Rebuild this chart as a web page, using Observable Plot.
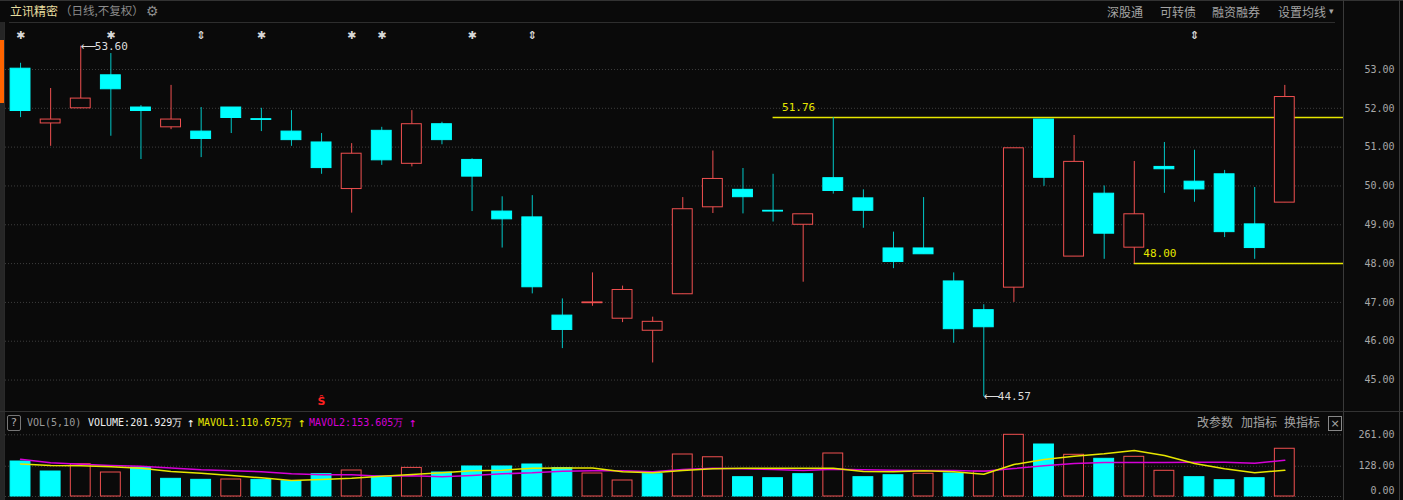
<!DOCTYPE html>
<html><head><meta charset="utf-8">
<script src="https://cdn.jsdelivr.net/npm/d3@7"></script>
<script src="https://cdn.jsdelivr.net/npm/@observablehq/plot@0.6"></script>
<style>
html,body{margin:0;padding:0;background:#0a0a0a;}
#wrap{position:relative;width:1403px;height:500px;background:#0a0a0a;overflow:hidden;font-family:"Noto Sans CJK SC",sans-serif;}
.t{position:absolute;white-space:nowrap;line-height:1;}
.m{font-family:"DejaVu Sans Mono",monospace;font-size:10px;}
.cn{font-family:"Noto Sans CJK SC",sans-serif;font-size:12px;color:#a4a4a4;}
.ln{position:absolute;background:#333;}
.svgbox{position:absolute;left:0;}
</style></head><body><div id="wrap"></div>
<script>
// ---------- data ----------
const stockName = "立讯精密";
const periodLabel = "（日线,不复权）";
const topMenu = ["深股通", "可转债", "融资融券", "设置均线"];
const volMenu = ["改参数", "加指标", "换指标"];
const dayIdx = d3.range(1, 44);
const open  = [53.02,51.61,52.00,52.85,52.02,51.51,51.40,52.02,51.72,51.40,51.12,49.92,51.42,50.57,51.59,50.67,49.34,49.19,46.66,46.98,46.58,46.27,47.21,49.45,49.90,49.36,49.00,50.20,49.68,48.39,48.39,47.54,46.80,47.38,51.71,48.18,49.80,48.41,50.49,50.11,50.30,49.01,49.57];
const high  = [53.16,52.51,53.60,53.41,52.07,52.59,52.02,52.02,52.00,51.94,51.35,51.09,51.51,51.94,51.64,50.70,49.72,49.75,47.09,47.76,47.42,46.62,49.70,50.90,50.45,50.30,49.27,51.76,49.90,48.81,49.70,47.76,46.94,50.97,51.71,51.30,50.00,50.63,51.12,50.92,50.40,49.96,52.59];
const low   = [51.76,51.02,51.99,51.28,50.68,51.45,50.73,51.35,51.40,51.02,50.30,49.30,50.53,50.49,51.06,49.34,48.40,47.22,45.81,46.90,46.48,45.44,47.21,49.29,49.28,49.07,47.52,49.79,48.91,47.87,48.24,45.95,44.57,47.00,49.99,48.18,48.11,48.00,49.81,49.58,48.67,48.11,49.57];
const close = [51.93,51.71,52.25,52.49,51.93,51.71,51.21,51.75,51.70,51.18,50.46,50.83,50.66,51.59,51.18,50.24,49.14,47.39,46.29,47.00,47.32,46.50,49.40,50.18,49.71,49.34,49.27,49.87,49.36,48.04,48.24,46.31,46.36,50.97,50.21,50.62,48.77,49.27,50.43,49.91,48.81,48.40,52.29];
const volume = [148,105.7,136.7,101.5,122.7,74.8,70.5,71.9,70.5,64.8,94.4,110,84.6,121,101.5,127,127,135.4,119.9,97.3,67.7,94.4,177.7,166,81.7,77.4,94.4,181.9,81.7,90,96,97.3,105.8,261,220,176.4,159.5,167.9,108.7,81.7,69,77.4,201.929];
const mavol1 = [138,131,129.7,125.6,119.9,105.8,98.7,88.8,79,67.7,71.9,77.4,86,93,100,108.7,111,119.9,121,121,104.5,100,110,117,119.9,119.9,119.9,119.9,105.8,104.5,108.7,104.5,94.4,135.4,156.5,170.5,180.6,194.6,173.4,139.6,117,100.4,110.675];
const mavol2 = [158,142.5,136.7,131,128,121,113,108.7,104.5,96,91.8,91.8,86,87.6,83.3,88.8,96,100,107,108.7,108.7,104.5,114,119.9,117,114,110,115.6,113,111,110,110,107,118.4,129.7,139.6,143.8,143.8,143.8,145,145,141,153.605];
const priceTicks = [45,46,47,48,49,50,51,52,53];
const volTicks = [128, 261];
const starDays = [1,4,9,12,13,16];
const arrowDays = [7,18,40];
const signalDays = [11];
const levelDays = [26, 38];
const levelValues = [51.76, 48.00];
const xDomain = [0.5, 44.95];
const priceDomain = [44.19, 54.21];
const volDomain = [0, 359.6];

// ---------- styles ----------
const BG = "#0a0a0a", RED = "#f05050", CYAN = "#00ffff", CYANW = "#00c8c8", YEL = "#e6e600", MAG = "#d600d6", GRID = "#3e3e3e";
const MONO = "DejaVu Sans Mono, monospace";

const candles = dayIdx.map((d, k) => ({i: d, o: open[k], h: high[k], l: low[k], c: close[k], up: close[k] >= open[k]}));
const vols = dayIdx.map((d, k) => ({i: d, v: volume[k], m5: mavol1[k], m10: mavol2[k],
  up: close[k] >= (k === 0 ? open[k] : close[k - 1])}));
const levels = levelDays.map((d, k) => ({i: d, v: levelValues[k]}));
const kMax = d3.maxIndex(high), kMin = d3.minIndex(low);
const extremes = [{i: dayIdx[kMax], v: high[kMax]}, {i: dayIdx[kMin], v: low[kMin]}];
const HW = 0.33;

const price = Plot.plot({
  width: 1403, height: 411, marginLeft: 5, marginRight: 60, marginTop: 22, marginBottom: 0,
  style: {background: "transparent", overflow: "visible"},
  x: {domain: xDomain, axis: null},
  y: {domain: priceDomain, axis: null},
  color: {type: "identity"},
  marks: [
    Plot.ruleY(priceTicks, {y: d => d, stroke: GRID, strokeDasharray: "1,2"}),
    Plot.ruleY(levels, {y: "v", x1: "i", x2: xDomain[1], stroke: YEL, strokeWidth: 1.5}),
    Plot.text(levels, {x: "i", y: "v", text: d => d.v.toFixed(2), textAnchor: "start", dx: 9, dy: -10, fill: YEL, fontFamily: MONO, fontSize: 11}),
    Plot.ruleX(candles, {x: "i", y1: "l", y2: "h", stroke: d => d.up ? RED : CYANW}),
    Plot.rect(candles, {x1: d => d.i - HW, x2: d => d.i + HW, y1: "o", y2: "c", fill: d => d.up ? BG : CYAN, stroke: d => d.up ? RED : CYAN}),
    Plot.text(extremes, {x: "i", y: "v", text: () => "⟵", textAnchor: "start", dx: 0, fill: "#dcdcdc", fontFamily: "DejaVu Sans", fontSize: 11}),
    Plot.text(extremes, {x: "i", y: "v", text: d => d.v.toFixed(2), textAnchor: "start", dx: 14, fill: "#dcdcdc", fontFamily: MONO, fontSize: 11}),
    Plot.text(priceTicks, {y: d => d, frameAnchor: "right", text: d => d.toFixed(2), textAnchor: "end", dx: 51, fill: "#a8a8a8", fontFamily: MONO, fontSize: 10}),
    Plot.text(starDays, {x: d => d, frameAnchor: "top", dy: 9, text: () => "✱", fill: "#d8d8d8", fontSize: 11, fontFamily: "DejaVu Sans"}),
    Plot.text(arrowDays, {x: d => d, frameAnchor: "top", dy: 9, text: () => "⇕", fill: "#d8d8d8", fontSize: 11, fontWeight: "bold", fontFamily: "DejaVu Sans"}),
    Plot.text(signalDays, {x: d => d, frameAnchor: "bottom", dy: -7, text: () => "Ŝ", fill: "#ff2020", fontSize: 11, fontWeight: "bold", fontFamily: "DejaVu Sans"})
  ]
});

const vol = Plot.plot({
  width: 1403, height: 89, marginLeft: 5, marginRight: 60, marginTop: 0, marginBottom: 4,
  style: {background: "transparent", overflow: "visible"},
  x: {domain: xDomain, axis: null},
  y: {domain: volDomain, axis: null},
  color: {type: "identity"},
  marks: [
    Plot.ruleY([0, ...volTicks], {y: d => d, stroke: GRID, strokeDasharray: "1,2"}),
    Plot.rect(vols, {x1: d => d.i - HW, x2: d => d.i + HW, y1: 0, y2: "v", fill: d => d.up ? BG : CYAN, stroke: d => d.up ? RED : CYAN}),
    Plot.line(vols, {x: "i", y: "m10", stroke: MAG, strokeWidth: 1.5}),
    Plot.line(vols, {x: "i", y: "m5", stroke: YEL, strokeWidth: 1.5}),
    Plot.text(volTicks, {y: d => d, frameAnchor: "right", text: d => d.toFixed(2), textAnchor: "end", dx: 51, fill: "#a8a8a8", fontFamily: MONO, fontSize: 10}),
    Plot.text([0], {y: d => d, frameAnchor: "right", text: d => d.toFixed(2), textAnchor: "end", dx: 51, dy: -6, fill: "#a8a8a8", fontFamily: MONO, fontSize: 10})
  ]
});

// ---------- layout ----------
const wrap = document.getElementById("wrap");
function add(html) { wrap.insertAdjacentHTML("beforeend", html); }
add(`<div class="ln" style="left:0;top:0;width:1403px;height:1px"></div>`);
add(`<div class="ln" style="left:0;top:22px;width:4px;height:478px;background:#262626"></div>`);
add(`<div class="ln" style="left:0;top:40px;width:4px;height:63px;background:#ff6400"></div>`);
add(`<div class="ln" style="left:4px;top:22px;width:1px;height:478px;background:#2a2a2a"></div>`);
add(`<div class="ln" style="left:9px;top:22px;width:1326px;height:1px;background:#2e2e2e"></div>`);
add(`<div class="ln" style="left:1343px;top:0;width:1px;height:500px;background:#3a3a3a"></div>`);
add(`<div class="ln" style="left:1399px;top:0;width:1px;height:500px;background:#3a3a3a"></div>`);
add(`<div class="ln" style="left:0;top:411px;width:1403px;height:1px;background:#333"></div>`);

const pbox = document.createElement("div"); pbox.className = "svgbox"; pbox.style.top = "0px"; pbox.appendChild(price); wrap.appendChild(pbox);
const vbox = document.createElement("div"); vbox.className = "svgbox"; vbox.style.top = "411px"; vbox.appendChild(vol); wrap.appendChild(vbox);

add(`<div class="t" style="left:10px;top:5px;font-size:12px;color:#e8dfa0">${stockName}</div>`);
add(`<div class="t" style="left:60px;top:5px;font-size:11.5px;color:#8c8c8c">${periodLabel}</div>`);
add(`<div class="t" style="left:146px;top:4px;font-size:14px;color:#8c8c8c;font-family:'DejaVu Sans'">⚙</div>`);
const menuX = [1107, 1160, 1212, 1278];
topMenu.forEach((s, k) => add(`<div class="t cn" style="left:${menuX[k]}px;top:6px">${s}</div>`));
add(`<div class="t" style="left:1329px;top:7px;font-size:9px;color:#a4a4a4;font-family:'DejaVu Sans'">▾</div>`);

// volume header
add(`<div class="t" style="left:7px;top:415px;width:12px;height:14px;border:1px solid #777;border-radius:2px;color:#aaa;font-size:11px;text-align:center;line-height:14px;font-family:'DejaVu Sans'">?</div>`);
const last = vols[vols.length - 1];
add(`<div class="t m" style="left:27px;top:418px;color:#9a9a9a">VOL(5,10)</div>`);
add(`<div class="t m" style="left:88px;top:418px;color:#f0f0f0">VOLUME:${last.v.toFixed(3)}万</div>`);
add(`<div class="t m" style="left:187px;top:416px;color:#f0f0f0;font-size:13px">↑</div>`);
add(`<div class="t m" style="left:198px;top:418px;color:${YEL}">MAVOL1:${last.m5.toFixed(3)}万</div>`);
add(`<div class="t m" style="left:298px;top:416px;color:${YEL};font-size:13px">↑</div>`);
add(`<div class="t m" style="left:309px;top:418px;color:${MAG}">MAVOL2:${last.m10.toFixed(3)}万</div>`);
add(`<div class="t m" style="left:409px;top:416px;color:${MAG};font-size:13px">↑</div>`);
const vmX = [1197, 1241, 1284];
volMenu.forEach((s, k) => add(`<div class="t cn" style="left:${vmX[k]}px;top:416px">${s}</div>`));
add(`<div class="t" style="left:1328px;top:416px;width:12px;height:13px;border:1px solid #888;color:#aaa;font-size:11px;text-align:center;line-height:13px;font-family:'DejaVu Sans'">×</div>`);
</script></body></html>
